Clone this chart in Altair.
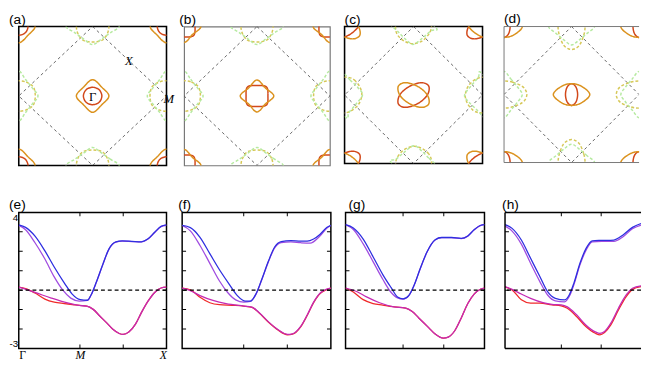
import altair as alt
import pandas as pd

# ---------------- band structures (k along path, normalised 0..1 ; E) ----------------
E_BLUE = [(0, 3.36), (0.046, 3.23), (0.11, 2.78), (0.177, 2.02), (0.24, 1.19), (0.31, 0.35), (0.36, -0.19),
          (0.417, -0.49), (0.465, -0.52), (0.49, -0.24), (0.526, 0.43), (0.57, 1.35), (0.61, 2.11), (0.657, 2.48),
          (0.70, 2.53), (0.766, 2.51), (0.83, 2.49), (0.875, 2.64), (0.92, 2.98), (0.963, 3.28), (1.0, 3.36)]
E_VIOLET = [(0, 3.33), (0.046, 3.11), (0.11, 2.44), (0.177, 1.60), (0.24, 0.68), (0.297, 0.01), (0.352, -0.41),
            (0.41, -0.56), (0.465, -0.53), (0.49, -0.25), (0.526, 0.42), (0.57, 1.34), (0.61, 2.10), (0.657, 2.47),
            (0.70, 2.52), (0.766, 2.50), (0.83, 2.48), (0.875, 2.63), (0.92, 2.97), (0.963, 3.27), (1.0, 3.34)]
E_RED = [(0, 0.15), (0.046, 0.08), (0.11, -0.15), (0.177, -0.46), (0.24, -0.62), (0.308, -0.69), (0.362, -0.74),
         (0.41, -0.79), (0.46, -0.82), (0.504, -0.99), (0.548, -1.33), (0.592, -1.66), (0.635, -2.0),
         (0.68, -2.23), (0.707, -2.28), (0.745, -2.16), (0.79, -1.75), (0.83, -1.16), (0.875, -0.57),
         (0.92, -0.12), (0.963, 0.11), (1.0, 0.15)]
E_MAGENTA = [(0, 0.15), (0.11, -0.12), (0.22, -0.41), (0.33, -0.66), (0.41, -0.79), (0.46, -0.82), (0.504, -0.99),
             (0.548, -1.33), (0.592, -1.66), (0.635, -2.0), (0.68, -2.23), (0.707, -2.28), (0.745, -2.16),
             (0.79, -1.75), (0.83, -1.16), (0.875, -0.57), (0.92, -0.12), (0.963, 0.11), (1.0, 0.15)]

F_BLUE = [(0, 3.33), (0.055, 3.22), (0.12, 2.72), (0.186, 1.88), (0.251, 1.05), (0.317, 0.30), (0.371, -0.28),
          (0.426, -0.57), (0.459, -0.57), (0.496, -0.2), (0.535, 0.55), (0.579, 1.47), (0.622, 2.22), (0.666, 2.5),
          (0.731, 2.55), (0.797, 2.52), (0.841, 2.52), (0.884, 2.63), (0.928, 2.88), (0.972, 3.22), (1, 3.33)]
F_VIOLET = [(0, 3.33), (0.055, 3.05), (0.12, 2.3), (0.186, 1.38), (0.251, 0.47), (0.306, -0.12), (0.36, -0.5),
            (0.415, -0.62), (0.459, -0.58), (0.496, -0.22), (0.535, 0.52), (0.579, 1.44), (0.622, 2.18),
            (0.666, 2.45), (0.731, 2.48), (0.797, 2.44), (0.86, 2.42), (0.928, 2.8), (0.972, 3.18), (1, 3.33)]
F_RED = [(0, 0.1), (0.055, 0.02), (0.12, -0.37), (0.186, -0.65), (0.251, -0.75), (0.338, -0.78), (0.415, -0.82),
         (0.47, -0.89), (0.513, -1.14), (0.579, -1.64), (0.644, -2.05), (0.709, -2.3), (0.742, -2.27),
         (0.797, -1.89), (0.841, -1.3), (0.884, -0.64), (0.928, -0.17), (0.972, 0.03), (1, 0.1)]
F_MAGENTA = [(0, 0.1), (0.055, -0.03), (0.12, -0.28), (0.207, -0.53), (0.295, -0.7), (0.415, -0.82),
             (0.469, -0.87), (0.513, -1.12), (0.579, -1.62), (0.644, -2.03), (0.709, -2.28), (0.742, -2.25),
             (0.797, -1.87), (0.841, -1.28), (0.884, -0.62), (0.928, -0.15), (0.972, 0.05), (1, 0.1)]

G_BLUE = [(0, 3.37), (0.056, 3.2), (0.127, 2.63), (0.198, 1.72), (0.268, 0.8), (0.327, 0.14), (0.374, -0.35),
          (0.414, -0.45), (0.456, -0.27), (0.492, 0.23), (0.539, 1.14), (0.586, 1.96), (0.645, 2.59),
          (0.692, 2.71), (0.762, 2.71), (0.833, 2.66), (0.88, 2.79), (0.927, 3.12), (0.974, 3.34), (1, 3.37)]
G_VIOLET = [(0, 3.37), (0.056, 3.12), (0.127, 2.38), (0.198, 1.47), (0.268, 0.56), (0.327, -0.11), (0.374, -0.4),
            (0.414, -0.46), (0.456, -0.28), (0.492, 0.22), (0.539, 1.13), (0.586, 1.95), (0.645, 2.58),
            (0.692, 2.7), (0.762, 2.7), (0.833, 2.65), (0.88, 2.78), (0.927, 3.11), (0.974, 3.33), (1, 3.37)]
G_RED = [(0, 0.11), (0.056, -0.1), (0.127, -0.49), (0.198, -0.69), (0.268, -0.77), (0.339, -0.85),
         (0.433, -0.93), (0.48, -1.1), (0.527, -1.43), (0.598, -1.93), (0.645, -2.26), (0.704, -2.47),
         (0.739, -2.42), (0.786, -2.09), (0.833, -1.43), (0.88, -0.69), (0.927, -0.19), (0.974, 0.06), (1, 0.11)]
G_MAGENTA = [(0, 0.11), (0.08, -0.07), (0.151, -0.35), (0.245, -0.65), (0.339, -0.85), (0.433, -0.93),
             (0.48, -1.1), (0.527, -1.43), (0.598, -1.93), (0.645, -2.26), (0.704, -2.47), (0.739, -2.42),
             (0.786, -2.09), (0.833, -1.43), (0.88, -0.69), (0.927, -0.19), (0.974, 0.06), (1, 0.11)]

H_BLUE = [(0, 3.38), (0.052, 3.18), (0.12, 2.58), (0.188, 1.64), (0.256, 0.7), (0.313, -0.08), (0.37, -0.42),
          (0.438, -0.5), (0.472, -0.25), (0.506, 0.35), (0.551, 1.38), (0.596, 2.15), (0.642, 2.54), (0.71, 2.56),
          (0.8, 2.58), (0.868, 2.84), (0.937, 3.23), (1, 3.43)]
H_VIOLET = [(0, 3.3), (0.052, 3.04), (0.12, 2.37), (0.188, 1.38), (0.256, 0.44), (0.313, -0.25), (0.37, -0.55),
            (0.438, -0.6), (0.472, -0.33), (0.506, 0.27), (0.551, 1.3), (0.596, 2.06), (0.642, 2.49),
            (0.71, 2.51), (0.8, 2.51), (0.868, 2.75), (0.937, 3.16), (1, 3.35)]
H_RED = [(0, 0.15), (0.052, 0.01), (0.12, -0.5), (0.188, -0.67), (0.256, -0.67), (0.345, -0.76), (0.413, -0.81),
         (0.458, -0.93), (0.526, -1.36), (0.594, -1.87), (0.664, -2.22), (0.698, -2.3), (0.732, -2.18),
         (0.778, -1.79), (0.834, -1.02), (0.891, -0.33), (0.937, 0.04), (1, 0.18)]
H_MAGENTA = [(0, 0.18), (0.052, 0.04), (0.12, -0.2), (0.188, -0.42), (0.279, -0.64), (0.345, -0.73),
             (0.413, -0.76), (0.458, -0.86), (0.526, -1.27), (0.594, -1.79), (0.664, -2.15), (0.698, -2.23),
             (0.732, -2.13), (0.778, -1.7), (0.834, -0.93), (0.891, -0.25), (0.937, 0.1), (1, 0.22)]

BAND_NAMES = ["violet", "red", "blue", "magenta"]
BAND_COLOURS = {"blue": "#2e2ee0", "violet": "#a04ce0", "red": "#f02a2a", "magenta": "#c42ab4"}

K_POINTS = [0, 0.414, 1]
K_LABELS = ["Γ", "M", "X"]
K_TICKS = [0.414, 0.707]
E_TICKS = [-3, -2, -1, 0, 1, 2, 3, 4]
E_RANGE = [-3, 4]
E_LABEL_VALUES = [4, -3]
E_LABELS = ["4", "-3"]
FERMI_LEVEL = [0]

# ---------------- Fermi surfaces (kx, ky in units of the panel half-width) ----------------
A_INNER = [(0.125, 0), (0.088, 0.09), (0, 0.125), (-0.088, 0.09), (-0.125, 0), (-0.088, -0.09), (0, -0.125), (0.088, -0.09)]
A_OUTER = [(0.22, 0), (0.125, 0.125), (0, 0.235), (-0.125, 0.125), (-0.22, 0), (-0.125, -0.125), (0, -0.235), (0.125, -0.125)]
B_INNER = [(0.15, 0), (0.13, 0.13), (0, 0.15), (-0.13, 0.13), (-0.15, 0), (-0.13, -0.13), (0, -0.15), (0.13, -0.13)]
B_OUTER = [(0.23, 0), (0.115, 0.115), (0, 0.23), (-0.115, 0.115), (-0.23, 0), (-0.115, -0.115), (0, -0.23), (0.115, -0.115)]
C_INNER = [(0.22, 0.13), (0.11, 0.18), (-0.07, 0.12), (-0.2, 0.0), (-0.22, -0.13), (-0.11, -0.18), (0.07, -0.12), (0.2, 0.0)]
C_OUTER = [(0.22, -0.13), (0.11, -0.18), (-0.07, -0.12), (-0.2, 0.0), (-0.22, 0.13), (-0.11, 0.18), (0.07, 0.12), (0.2, 0.0)]
D_INNER = [(0.09, 0), (0.065, 0.11), (0, 0.16), (-0.065, 0.11), (-0.09, 0), (-0.065, -0.11), (0, -0.16), (0.065, -0.11)]
D_OUTER = [(0.27, 0), (0.15, 0.12), (0, 0.16), (-0.15, 0.12), (-0.27, 0), (-0.15, -0.12), (0, -0.16), (0.15, -0.12)]

# pockets at the zone-edge points: a narrow "U" and a wide "V" (drawn for the top/bottom edges)
EDGE_Y = [(0.22, 0), (0.2, 0.1), (0.14, 0.19), (0.05, 0.22), (-0.05, 0.22), (-0.14, 0.19), (-0.2, 0.1),
          (-0.22, 0), (-0.2, -0.1), (-0.14, -0.19), (-0.05, -0.22), (0.05, -0.22), (0.14, -0.19), (0.2, -0.1)]
EDGE_G = [(0.36, 0), (0.24, 0.09), (0.12, 0.18), (0, 0.26), (-0.12, 0.18), (-0.24, 0.09),
          (-0.36, 0), (-0.24, -0.09), (-0.12, -0.18), (0, -0.26), (0.12, -0.18), (0.24, -0.09)]
C_EDGE_Y = [(0.26, 0.04), (0.22, 0.14), (0.12, 0.22), (0, 0.25), (-0.14, 0.2), (-0.24, 0.08),
            (-0.26, -0.04), (-0.22, -0.14), (-0.12, -0.22), (0, -0.25), (0.14, -0.2), (0.24, -0.08)]
C_EDGE_G = [(0.34, -0.04), (0.22, 0.08), (0.1, 0.2), (0, 0.26), (-0.14, 0.16), (-0.26, 0.06),
            (-0.34, 0.04), (-0.22, -0.08), (-0.1, -0.2), (0, -0.26), (0.14, -0.16), (0.26, -0.06)]
D_EDGE_Y = [(0.2, 0), (0.18, 0.13), (0.12, 0.27), (0.04, 0.33), (-0.04, 0.33), (-0.12, 0.27), (-0.18, 0.13),
            (-0.2, 0), (-0.18, -0.13), (-0.12, -0.27), (-0.04, -0.33), (0.04, -0.33), (0.12, -0.27), (0.18, -0.13)]
D_EDGE_G = [(0.34, 0), (0.23, 0.1), (0.11, 0.2), (0, 0.27), (-0.11, 0.2), (-0.23, 0.1),
            (-0.34, 0), (-0.23, -0.1), (-0.11, -0.2), (0, -0.27), (0.11, -0.2), (0.23, -0.1)]

CENTRE_SITES = [(0, 0), (1, 1), (1, -1), (-1, 1), (-1, -1)]
EDGE_SITES_V = [(0, 1), (0, -1)]
EDGE_SITES_H = [(1, 0), (-1, 0)]
ZONE = [(0, 1), (1, 0), (0, -1), (-1, 0), (0, 1)]

FS_KINDS = ["inner", "outer", "edge_y", "edge_g"]
FS_COLOURS = ["#d2481a", "#db921e", "#d6c858", "#b6eaa0"]
FS_DASH = [[1, 0], [1, 0], [3, 2], [3, 2]]
FS_WIDTH = [1.5, 1.5, 1.0, 1.0]

A_NOTES = [("Γ", 0.0, -0.02, "normal", "center"), ("X", 0.49, 0.5, "italic", "center"), ("M", 0.96, -0.04, "italic", "left")]

KSCALE = alt.Scale(domain=[-1, 1], nice=False, zero=False)
XSCALE = alt.Scale(domain=[0, 1], nice=False, zero=False)
YSCALE = alt.Scale(domain=E_RANGE, nice=False, zero=False)


def title(tag, dx):
    return alt.TitleParams(text=tag, anchor="start", frame="group", dx=dx, fontSize=14, font="Liberation Sans",
                           fontWeight="normal", offset=0, color="black")


def open_frame(w, h, colour, sw):
    """Left, top and bottom border only: the panel runs off the right edge of the figure."""
    return [
        alt.Chart().mark_rule(color=colour, strokeWidth=sw).encode(x=alt.value(0), y=alt.value(0), y2=alt.value(h)),
        alt.Chart().mark_rule(color=colour, strokeWidth=sw).encode(x=alt.value(0), x2=alt.value(w), y=alt.value(0)),
        alt.Chart().mark_rule(color=colour, strokeWidth=sw).encode(x=alt.value(0), x2=alt.value(w), y=alt.value(h)),
    ]


def fermi_frame(inner, outer, edge_y, edge_g):
    rows = []

    def add(kind, pts, sites, swap):
        for (cx, cy) in sites:
            for i, (x, y) in enumerate(pts):
                if swap:
                    x, y = y, x
                rows.append({"curve": f"{kind}{cx}{cy}", "kind": kind, "i": i, "kx": x + cx, "ky": y + cy})

    add("edge_y", edge_y, EDGE_SITES_V, False)
    add("edge_g", edge_g, EDGE_SITES_V, False)
    add("edge_y", edge_y, EDGE_SITES_H, True)
    add("edge_g", edge_g, EDGE_SITES_H, True)
    add("inner", inner, CENTRE_SITES, False)
    add("outer", outer, CENTRE_SITES, False)
    return pd.DataFrame(rows)


def fermi_panel(tag, dx, w, h, shapes, stroke, sw, notes=None, cut=False):
    df = fermi_frame(*shapes)
    zone = pd.DataFrame(ZONE, columns=["kx", "ky"])
    zone["i"] = range(len(zone))
    xe = alt.X("kx:Q", scale=KSCALE, axis=None)
    ye = alt.Y("ky:Q", scale=KSCALE, axis=None)
    zl = alt.Chart(zone).mark_line(color="#555555", strokeDash=[3, 3], strokeWidth=0.9, clip=True).encode(
        x=xe, y=ye, order="i:Q")
    pockets = alt.Chart(df).mark_line(interpolate="cardinal-closed", clip=True).encode(
        x=xe, y=ye, detail="curve:N", order="i:Q",
        color=alt.Color("kind:N", scale=alt.Scale(domain=FS_KINDS, range=FS_COLOURS), legend=None),
        strokeDash=alt.StrokeDash("kind:N", scale=alt.Scale(domain=FS_KINDS, range=FS_DASH), legend=None),
        strokeWidth=alt.StrokeWidth("kind:N", scale=alt.Scale(domain=FS_KINDS, range=FS_WIDTH), legend=None),
    )
    layers = [zl, pockets]
    if notes:
        for (txt, x, y, style, align) in notes:
            nd = pd.DataFrame({"kx": [x], "ky": [y], "t": [txt]})
            layers.append(alt.Chart(nd).mark_text(font="Liberation Serif", fontSize=13, fontStyle=style,
                                                   align=align, baseline="middle", color="black").encode(
                x=xe, y=ye, text="t:N"))
    if cut:
        layers += open_frame(w, h, stroke, sw)
        view = alt.ViewBackground(stroke="transparent", strokeWidth=0)
    else:
        view = alt.ViewBackground(stroke=stroke, strokeWidth=sw)
    return alt.layer(*layers).properties(width=w, height=h, title=title(tag, dx), view=view)


def band_panel(tag, dx, w, h, bands, labelled, cut=False):
    layers = []
    for n, name in enumerate(BAND_NAMES):
        df = pd.DataFrame(bands[name], columns=["k", "E"])
        df["i"] = range(len(df))
        if n == 0 and labelled:
            xax = alt.Axis(orient="bottom", values=K_POINTS,
                           labelExpr=" : ".join(f"datum.value == {v} ? '{t}'" for v, t in zip(K_POINTS[:-1], K_LABELS[:-1])) + f" : '{K_LABELS[-1]}'",
                           ticks=False, domain=False, grid=False, title=None, labelFont="Liberation Serif",
                           labelFontSize=12, labelPadding=1, labelFlush=True, labelColor="black",
                           minExtent=0,
                           labelFontStyle={"condition": {"test": "datum.value == 0", "value": "normal"}, "value": "italic"})
            yax = alt.Axis(orient="left", values=E_LABEL_VALUES,
                           labelExpr=f"datum.value == {E_LABEL_VALUES[0]} ? '{E_LABELS[0]}' : '{E_LABELS[1]}'",
                           ticks=False, domain=False, grid=False, title=None, labelFont="Liberation Sans",
                           labelFontSize=10, labelPadding=1, labelFlush=True, labelColor="black",
                           minExtent=0)
        else:
            xax = None
            yax = None
        layers.append(alt.Chart(df).mark_line(color=BAND_COLOURS[name], strokeWidth=1.3, interpolate="monotone",
                                              clip=True).encode(
            x=alt.X("k:Q", scale=XSCALE, axis=xax), y=alt.Y("E:Q", scale=YSCALE, axis=yax), order="i:Q"))
    zero = pd.DataFrame({"E": FERMI_LEVEL})
    layers.append(alt.Chart(zero).mark_rule(color="black", strokeDash=[4, 3], strokeWidth=1.3).encode(
        y=alt.Y("E:Q", scale=YSCALE, axis=None)))
    # inward ticks on the frame (half of each tick is clipped away)
    edges = [0] if cut else [0, 1]
    ytk = pd.DataFrame({"E": [e for _ in edges for e in E_TICKS], "k": [k for k in edges for _ in E_TICKS]})
    xtk = pd.DataFrame({"k": [k for _ in E_RANGE for k in K_TICKS], "E": [e for e in E_RANGE for _ in K_TICKS]})
    layers.append(alt.Chart(ytk).mark_tick(orient="horizontal", size=8, thickness=1, color="black", clip=True,
                                           opacity=1).encode(
        x=alt.X("k:Q", scale=XSCALE, axis=None), y=alt.Y("E:Q", scale=YSCALE, axis=None)))
    layers.append(alt.Chart(xtk).mark_tick(orient="vertical", size=8, thickness=1, color="black", clip=True,
                                           opacity=1).encode(
        x=alt.X("k:Q", scale=XSCALE, axis=None), y=alt.Y("E:Q", scale=YSCALE, axis=None)))
    if cut:
        layers += open_frame(w, h, "black", 1.5)
        view = alt.ViewBackground(stroke="transparent", strokeWidth=0)
    else:
        view = alt.ViewBackground(stroke="black", strokeWidth=1.5)
    return alt.layer(*layers).resolve_axis(x="independent", y="independent").properties(
        width=w, height=h, title=title(tag, dx), view=view)


pa = fermi_panel("(a)", -10, 151, 142, (A_INNER, A_OUTER, EDGE_Y, EDGE_G), "black", 1.6, A_NOTES)
pb = fermi_panel("(b)", -5, 149, 142, (B_INNER, B_OUTER, EDGE_Y, EDGE_G), "#777777", 1.2)
pc = fermi_panel("(c)", 0, 141, 140, (C_INNER, C_OUTER, C_EDGE_Y, C_EDGE_G), "black", 1.6)
pd_ = fermi_panel("(d)", 0, 138, 139, (D_INNER, D_OUTER, D_EDGE_Y, D_EDGE_G), "#777777", 1.0, cut=True)

pe = band_panel("(e)", -10, 151, 139, {"blue": E_BLUE, "violet": E_VIOLET, "red": E_RED, "magenta": E_MAGENTA}, True)
pf = band_panel("(f)", -4, 152, 139, {"blue": F_BLUE, "violet": F_VIOLET, "red": F_RED, "magenta": F_MAGENTA}, False)
pg = band_panel("(g)", 3, 142, 139, {"blue": G_BLUE, "violet": G_VIOLET, "red": G_RED, "magenta": G_MAGENTA}, False)
ph = band_panel("(h)", -3, 139, 139, {"blue": H_BLUE, "violet": H_VIOLET, "red": H_RED, "magenta": H_MAGENTA}, False, cut=True)

row1 = alt.hconcat(alt.hconcat(alt.hconcat(pa, pb, spacing=3), pc, spacing=13), pd_, spacing=20)
row2 = alt.hconcat(alt.hconcat(alt.hconcat(pe, pf, spacing=9), pg, spacing=11), ph, spacing=16)

chart = alt.vconcat(row1, row2, spacing=32).properties(
    padding={"left": 0, "top": 0, "right": 0, "bottom": 0}
).configure_view(stroke="black", strokeWidth=1.5).configure(background="white")

chart.save("out.html", embed_options={"renderer": "svg", "actions": False})
